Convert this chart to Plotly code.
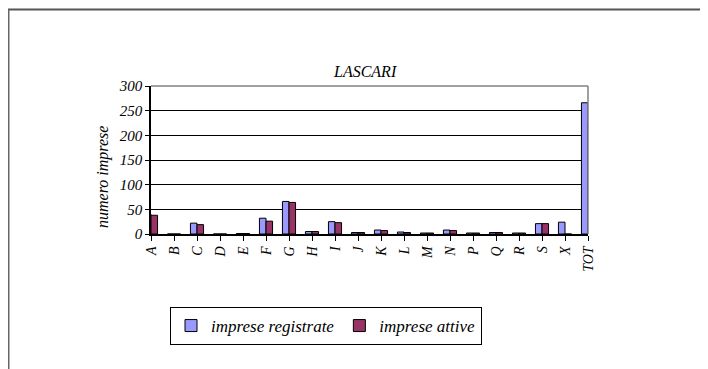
import plotly.graph_objects as go

categories = ["A", "B", "C", "D", "E", "F", "G", "H", "I", "J", "K", "L", "M", "N",
              "P", "Q", "R", "S", "X", "TOT"]
imprese_registrate = [40, 0, 22, 0, 1, 32, 66, 5, 25, 3, 8, 4, 2, 8, 2, 3, 2, 21, 24, 266]
imprese_attive = [38, 0, 19, 0, 1, 26, 64, 5, 23, 3, 7, 3, 2, 7, 2, 3, 2, 21, 0, 226]
y_ticks = [0, 50, 100, 150, 200, 250, 300]

OFF = 8  # page body margin
W, H = 708 - OFF, 369 - OFF
L, R, T, B = 151, 588, 86, 234  # plot area in screen pixels

def px(x):
    return (x - L) / (R - L)

def py(y):
    return (B - y) / (B - T)

FONT = "Liberation Serif"

fig = go.Figure()
fig.add_trace(go.Bar(x=categories, y=imprese_registrate, name="imprese registrate",
                     marker=dict(color="#9999FF", line=dict(color="black", width=1))))
fig.add_trace(go.Bar(x=categories, y=imprese_attive, name="imprese attive",
                     marker=dict(color="#993366", line=dict(color="black", width=1))))

fig.update_layout(
    width=W, height=H,
    margin=dict(l=L - OFF, r=W - (R - OFF), t=T - OFF, b=H - (B - OFF), pad=0),
    paper_bgcolor="white", plot_bgcolor="white",
    barmode="group", bargap=0.43, bargroupgap=0,
    font=dict(family=FONT, size=14, color="black"),
    showlegend=True,
    legend=dict(orientation="h", x=px(326), xanchor="center", y=py(307), yanchor="top",
                bordercolor="black", borderwidth=1, bgcolor="white",
                font=dict(family=FONT, size=17, style="italic"),
                itemwidth=30, tracegroupgap=0),
)
fig.update_xaxes(type="category", range=[0, len(categories) - 1],
                 showline=True, linecolor="black", linewidth=1.5,
                 ticks="outside", ticklen=5, tickcolor="black", tickangle=-90,
                 tickfont=dict(family=FONT, size=14, style="italic"),
                 showgrid=False, zeroline=False, fixedrange=True)
fig.update_yaxes(range=[0, 300], tickvals=y_ticks,
                 showline=True, linecolor="black", linewidth=1.5,
                 ticks="outside", ticklen=4, tickcolor="black",
                 tickfont=dict(family=FONT, size=15, style="italic"),
                 showgrid=True, gridcolor="black", gridwidth=1, zeroline=False)

# plot area top/right border (grey)
fig.add_shape(type="line", xref="paper", yref="paper", x0=0, x1=1, y0=1, y1=1,
              line=dict(color="#808080", width=1.5))
fig.add_shape(type="line", xref="paper", yref="paper", x0=1, x1=1, y0=0, y1=1,
              line=dict(color="#808080", width=1.5))
# outer chart frame (top and left edges)
fig.add_shape(type="line", xref="paper", yref="paper", x0=px(8), x1=px(720), y0=py(9.5), y1=py(9.5),
              line=dict(color="#555555", width=2))
fig.add_shape(type="line", xref="paper", yref="paper", x0=px(8.5), x1=px(8.5), y0=py(9.5), y1=py(380),
              line=dict(color="#666666", width=2))

fig.add_annotation(text="<i>LASCARI</i>", xref="paper", yref="paper", x=px(364.5), y=py(61),
                   showarrow=False, font=dict(family=FONT, size=16))
fig.add_annotation(text="<i>numero imprese</i>", xref="paper", yref="paper", x=px(92), y=py(177),
                   showarrow=False, textangle=-90, font=dict(family=FONT, size=16))

fig.write_html("out.html", config={"displayModeBar": False})
